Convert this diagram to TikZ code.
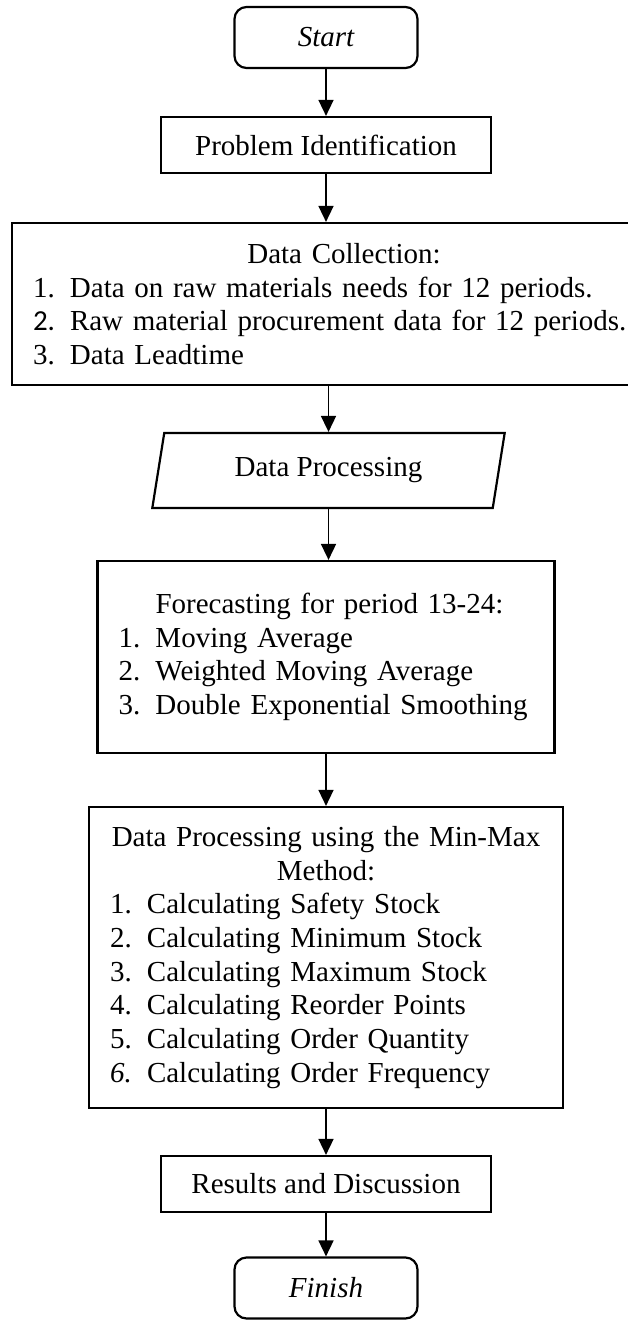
\documentclass[tikz,border=0pt]{standalone}
\usepackage{fontspec}
\setmainfont{Liberation Serif}
\newfontfamily\numfont{Carlito}
\usetikzlibrary{shapes.geometric,arrows.meta}
\setlength{\parindent}{0pt}

\newcommand\flowfont{\fontsize{29}{33.7}\selectfont}
\newcommand\itemnum[1]{\makebox[37pt][l]{#1}}

\tikzset{
  terminal/.style={draw, line width=2.2pt, rounded corners=12pt,
    minimum width=183pt, minimum height=61pt, font=\flowfont\itshape},
  process/.style={draw, line width=2.2pt, minimum width=330pt, minimum height=56pt},
  listbox/.style={draw, line width=2.2pt, align=left, inner xsep=21pt},
  io/.style={draw, trapezium, trapezium left angle=75, trapezium right angle=105,
    trapezium stretches=true, line width=2.2pt},
  flow/.style={-{Triangle[width=15pt,length=16pt]}, line width=1.6pt},
}

\begin{document}
\begin{tikzpicture}[x=1pt, y=-1pt, every node/.style={font=\flowfont, inner sep=0pt}]
  % Paso 1: Marco de la hoja
  \clip (0,0) rectangle (628,1320);
  \useasboundingbox (0,0) rectangle (628,1320);

  % Paso 2: Inicio e identificacion
  \node[terminal] (start) at (326,37.5) {Start};
  \node[process] (ident) at (326,145) {Problem Identification};

  % Paso 3: Recoleccion de datos
  \node[listbox, text width=622pt, minimum height=162pt] (collect) at (344,304) {%
    {\centering Data Collection:\par}
    \itemnum{1.}Data on raw materials needs for 12 periods.\par
    \itemnum{\numfont 2.}Raw material procurement data for 12 periods.\par
    \itemnum{3.}Data Leadtime};

  % Paso 4: Procesamiento (entrada/salida)
  \node[io, minimum width=353pt, minimum height=75pt] (proc) at (328.5,470.5) {Data Processing};

  % Paso 5: Pronostico
  \node[listbox, text width=415pt, minimum height=192pt] (fcast) at (326,657) {%
    \hspace*{37pt}Forecasting for period 13-24:\par
    \itemnum{1.}Moving Average\par
    \itemnum{2.}Weighted Moving Average\par
    \itemnum{3.}Double Exponential Smoothing};

  % Paso 6: Metodo Min-Max
  \node[listbox, text width=432pt, minimum height=301pt] (minmax) at (326,957.5) {%
    {\centering Data Processing using the Min-Max Method:\par}
    \itemnum{1.}Calculating Safety Stock\par
    \itemnum{2.}Calculating Minimum Stock\par
    \itemnum{3.}Calculating Maximum Stock\par
    \itemnum{4.}Calculating Reorder Points\par
    \itemnum{5.}Calculating Order Quantity\par
    \itemnum{\textit{6.}}Calculating Order Frequency};

  % Paso 7: Resultados y fin
  \node[process] (result) at (326,1184) {Results and Discussion};
  \node[terminal] (finish) at (326,1288) {Finish};

  % Paso 8: Flechas
  \draw[flow] (start) -- (ident);
  \draw[flow] (ident.south) -- (ident.south |- collect.north);
  \draw[flow] (proc.north |- collect.south) -- (proc.north);
  \draw[flow] (proc.south) -- (proc.south |- fcast.north);
  \draw[flow] (fcast) -- (minmax);
  \draw[flow] (minmax) -- (result);
  \draw[flow] (result) -- (finish);
\end{tikzpicture}
\end{document}
